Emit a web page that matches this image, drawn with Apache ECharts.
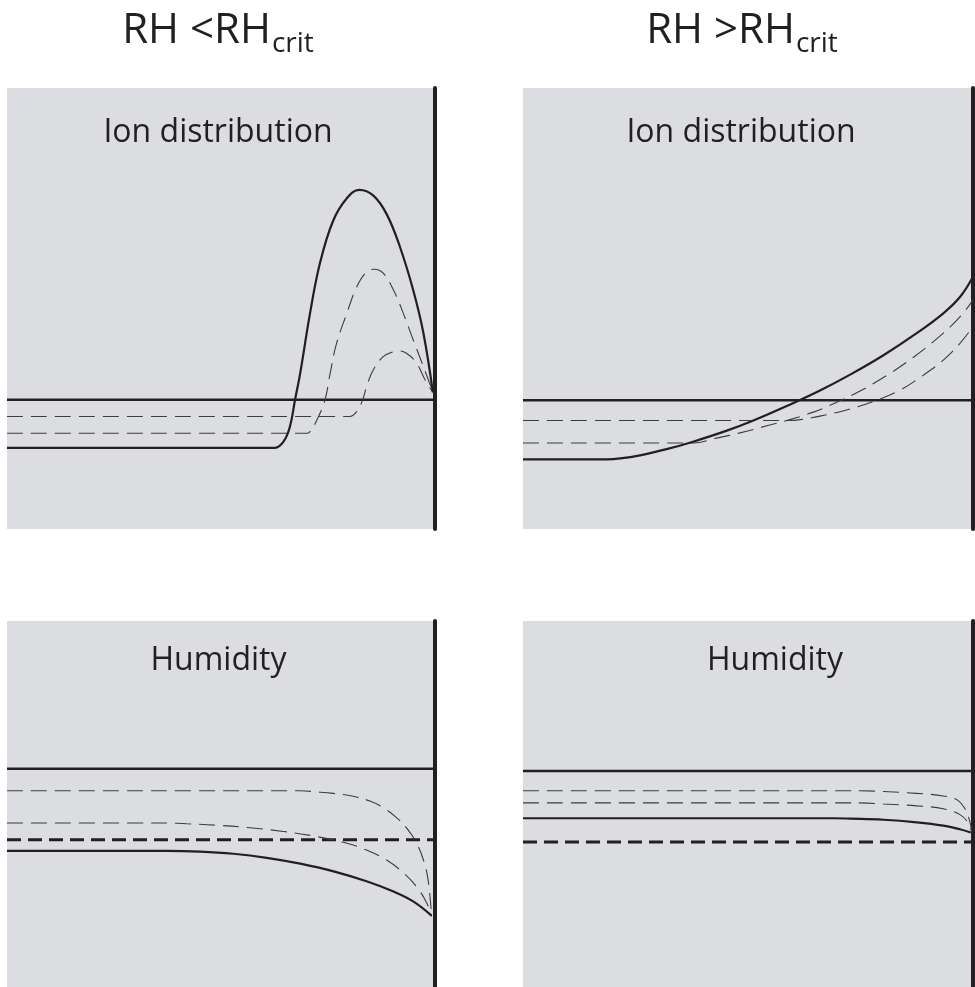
<!DOCTYPE html>
<html>
<head>
<meta charset="utf-8">
<script src="https://cdn.jsdelivr.net/npm/echarts@6/dist/echarts.min.js"></script>
<style>
  html, body { margin: 0; padding: 0; background: #ffffff; }
  #chart { width: 975px; height: 987px; }
</style>
</head>
<body>
<div id="chart"></div>
<script>
// ---------- text ----------
const columnTitles = ['RH <RH', 'RH >RH'];
const columnSub = 'crit';
const panelTitles = ['Ion distribution', 'Ion distribution', 'Humidity', 'Humidity'];

// ---------- data (x: distance 0-100, y: arbitrary units 0-100) ----------
// Top-left: ion distribution, RH < RH_crit
const ionLowBase = [[0, 29.3], [100, 29.3]];
const ionLowSolid = [[0, 18.4], [60, 18.4], [62.6, 18.4], [64.6, 19.8], [66.1, 23.2], [67.3, 29.3], [68.5, 35.3], [70.8, 48.9], [73.1, 60.2], [76.2, 69.9], [79.4, 75.0], [82.3, 76.9], [85.6, 75.6], [88.7, 71.4], [91.8, 64.0], [94.9, 54.2], [97.3, 44.4], [99.5, 31.0]];
const ionLowDashA = [[0, 21.7], [68, 21.7], [70.0, 21.7], [70.8, 22.1], [72.4, 24.7], [74.3, 29.3], [75.5, 35.3], [77.0, 42.1], [79.4, 48.9], [81.7, 54.9], [84.0, 58.3], [85.8, 58.9], [87.9, 58.0], [90.3, 54.2], [92.6, 48.9], [94.9, 42.9], [97.3, 36.8], [99.5, 31.0]];
const ionLowDashB = [[0, 25.5], [78, 25.5], [80.1, 25.5], [81.7, 26.6], [83.1, 29.3], [84.0, 32.3], [85.6, 36.1], [87.9, 39.1], [90.3, 40.2], [91.4, 40.4], [93.4, 39.8], [95.7, 37.6], [97.7, 33.8], [99.5, 31.0]];

// Top-right: ion distribution, RH > RH_crit
const ionHighBase = [[0, 29.2], [100, 29.2]];
const ionHighSolid = [[0, 15.8], [16, 15.8], [18.6, 15.8], [21.6, 16.0], [26.0, 16.7], [31.9, 18.1], [37.8, 19.8], [45.3, 22.3], [51.2, 24.6], [59.3, 28.2], [66.0, 31.4], [72.7, 35.0], [80.1, 39.4], [87.5, 44.4], [93.4, 48.9], [97.1, 52.6], [100, 57.2]];
const ionHighDashA = [[0, 24.6], [57, 24.6], [59.3, 24.6], [61.6, 24.8], [66.0, 25.6], [71.9, 27.0], [77.8, 28.9], [83.8, 31.5], [89.0, 34.9], [93.4, 38.3], [97.1, 42.1], [100, 45.9]];
const ionHighDashB = [[0, 19.5], [35, 19.5], [37.8, 19.5], [43.0, 20.6], [48.2, 21.8], [54.2, 23.4], [59.3, 24.8], [64.5, 26.5], [69.0, 28.4], [74.9, 31.3], [80.8, 34.8], [86.7, 38.9], [92.7, 43.8], [97.1, 48.1], [100, 51.9]];

// Bottom-left: humidity, RH < RH_crit
const humLowBase = [[0, 59.6], [100, 59.6]];
const humLowCrit = [[0, 40.2], [100, 40.2]];
const humLowDashA = [[0, 53.6], [66, 53.6], [68.5, 53.6], [72.4, 53.3], [76.2, 52.9], [80.9, 52.1], [84.8, 50.8], [87.9, 49.0], [91.0, 46.3], [93.4, 43.4], [95.7, 39.3], [97.3, 34.7], [98.4, 29.2], [99.2, 19.3]];
const humLowDashB = [[0, 44.8], [35, 44.8], [37.4, 44.8], [42.0, 44.6], [49.0, 44.2], [56.8, 43.5], [64.6, 42.5], [72.4, 41.1], [79.4, 39.3], [84.0, 37.4], [88.7, 34.7], [92.7, 31.1], [95.7, 27.4], [98.1, 22.9], [99.2, 19.3]];
const humLowSolid = [[0, 37.2], [35, 37.2], [37.3, 37.2], [45.1, 37.0], [52.9, 36.4], [60.7, 35.3], [68.5, 33.7], [76.3, 31.6], [84.0, 28.9], [90.3, 26.1], [94.9, 23.4], [99.2, 19.5]];

// Bottom-right: humidity, RH > RH_crit
const humHighBase = [[0, 59.0], [100, 59.0]];
const humHighCrit = [[0, 39.6], [100, 39.6]];
const humHighDashA = [[0, 53.6], [72, 53.6], [74.9, 53.6], [80.1, 53.4], [87.5, 52.9], [93.4, 52.2], [96.4, 51.2], [98.2, 48.7], [99.3, 45.2], [99.7, 42.4]];
const humHighDashB = [[0, 50.3], [72, 50.3], [74.9, 50.3], [80.1, 50.0], [87.5, 49.5], [93.4, 48.7], [97.1, 47.1], [98.9, 44.9], [99.7, 42.4]];
const humHighSolid = [[0, 46.1], [66, 46.1], [68.9, 46.1], [72.7, 46.0], [80.1, 45.7], [87.5, 45.0], [93.4, 44.1], [97.1, 43.1], [99.5, 42.2]];

// ---------- styles ----------
const INK = '#231f20';
const FONT = '"Open Sans", "Noto Sans", sans-serif';

function solid(idx, data, w, smooth) {
  return { type: 'line', xAxisIndex: idx, yAxisIndex: idx, data: data, smooth: smooth ? 0.4 : false,
    symbol: 'none', silent: true, lineStyle: { color: INK, width: w } };
}
function dashed(idx, data) {
  return { type: 'line', xAxisIndex: idx, yAxisIndex: idx, data: data, smooth: 0.4,
    symbol: 'none', silent: true, lineStyle: { color: '#3c3c3c', width: 1.1, type: [16, 8] } };
}
function thickDash(idx, data) {
  return { type: 'line', xAxisIndex: idx, yAxisIndex: idx, data: data, smooth: false,
    symbol: 'none', silent: true, lineStyle: { color: INK, width: 3, type: [14, 7] } };
}

const grids = [
  { left: 7, top: 88, width: 428, height: 441 },
  { left: 523, top: 88, width: 450, height: 441 },
  { left: 7, top: 621, width: 428, height: 366 },
  { left: 523, top: 621, width: 450, height: 366 }
];

function measure(text, font) {
  const ctx = document.createElement('canvas').getContext('2d');
  ctx.font = font;
  return ctx.measureText(text).width;
}

const mainFont = '42px ' + FONT;
const subFont = '28px ' + FONT;
const colCenters = [218, 742];
const graphics = [];
columnTitles.forEach(function (t, i) {
  const w1 = measure(t, mainFont);
  const w2 = measure(columnSub, subFont);
  const x0 = colCenters[i] - (w1 + w2 + 1) / 2;
  graphics.push({ type: 'text', x: x0, y: 31, silent: true,
    style: { text: t, font: mainFont, fill: INK, align: 'left', verticalAlign: 'middle', textAlign: 'left', textVerticalAlign: 'middle' } });
  graphics.push({ type: 'text', x: x0 + w1 + 1, y: 44, silent: true,
    style: { text: columnSub, font: subFont, fill: INK, align: 'left', verticalAlign: 'middle', textAlign: 'left', textVerticalAlign: 'middle' } });
});
const panelTitlePos = [[218, 133], [741, 133], [218.5, 661], [775, 661]];
panelTitles.forEach(function (t, i) {
  graphics.push({ type: 'text', x: panelTitlePos[i][0], y: panelTitlePos[i][1], silent: true,
    style: { text: t, font: '32px ' + FONT, fill: INK, align: 'center', verticalAlign: 'middle', textAlign: 'center', textVerticalAlign: 'middle' } });
});

const chart = echarts.init(document.getElementById('chart'), null, { renderer: 'canvas' });
chart.setOption({
  animation: false,
  backgroundColor: '#ffffff',
  grid: grids.map(function (g) {
    return Object.assign({ show: true, backgroundColor: '#dcdde0', borderWidth: 0, containLabel: false }, g);
  }),
  xAxis: grids.map(function (g, i) {
    return { type: 'value', gridIndex: i, min: 0, max: 100, show: false };
  }),
  yAxis: grids.map(function (g, i) {
    return { type: 'value', gridIndex: i, min: 0, max: 100, position: 'right',
      axisLine: { show: true, onZero: false, lineStyle: { color: INK, width: 4 } },
      axisTick: { show: false }, axisLabel: { show: false }, splitLine: { show: false } };
  }),
  series: [
    solid(0, ionLowBase, 2.5, false),
    dashed(0, ionLowDashB),
    dashed(0, ionLowDashA),
    solid(0, ionLowSolid, 2.2, true),

    solid(1, ionHighBase, 2.5, false),
    dashed(1, ionHighDashA),
    dashed(1, ionHighDashB),
    solid(1, ionHighSolid, 2.2, true),

    solid(2, humLowBase, 2.5, false),
    thickDash(2, humLowCrit),
    dashed(2, humLowDashA),
    dashed(2, humLowDashB),
    solid(2, humLowSolid, 2.2, true),

    solid(3, humHighBase, 2.5, false),
    thickDash(3, humHighCrit),
    dashed(3, humHighDashA),
    dashed(3, humHighDashB),
    solid(3, humHighSolid, 2.2, true)
  ],
  graphic: graphics
});
</script>
</body>
</html>
